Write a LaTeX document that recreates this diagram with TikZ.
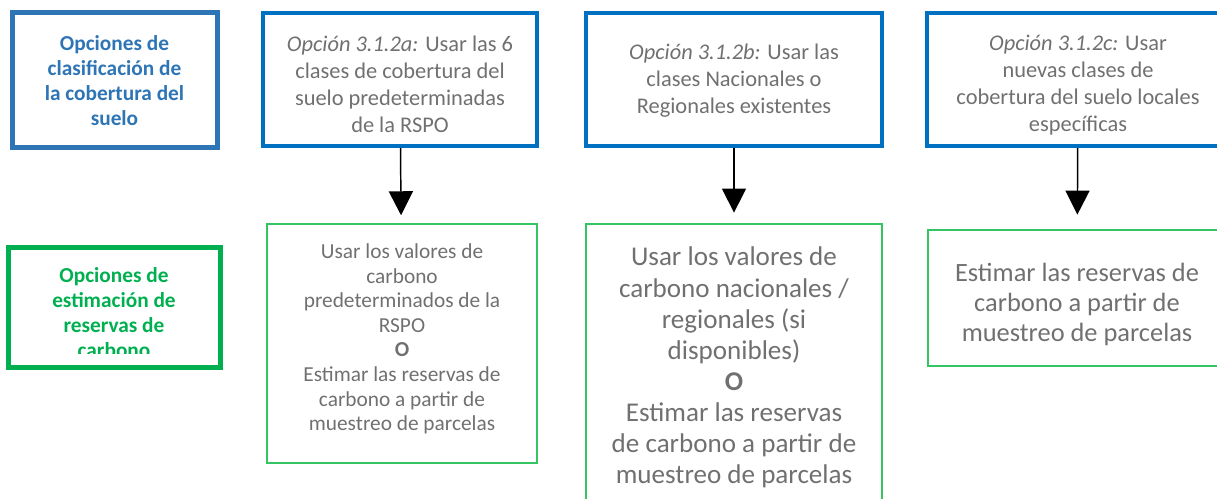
\documentclass[tikz,border=0pt]{standalone}
\usepackage{fontspec}
\setmainfont{Carlito}
\usetikzlibrary{arrows.meta}

\definecolor{hdrblue}{RGB}{46,117,182}
\definecolor{optblue}{RGB}{0,112,192}
\definecolor{hdrgreen}{RGB}{0,176,80}
\definecolor{estgreen}{RGB}{52,196,98}
\definecolor{txtgray}{RGB}{112,112,112}

\tikzset{every picture/.style={line width=0.75pt}}
\tikzset{
  hdrbox/.style={draw, line width=3.75pt, inner sep=0pt},
  hdrtxt/.style={font=\bfseries\fontsize{16}{18.75}\selectfont, inner sep=0pt, align=center},
  optbox/.style={draw=optblue, line width=2.8pt, inner sep=0pt},
  opttxt/.style={text=txtgray, inner sep=0pt, align=center, font=\fontsize{16.8}{20.25}\selectfont},
  estbox/.style={draw=estgreen, line width=1.1pt, inner sep=0pt},
  esttxt/.style={text=txtgray, inner sep=0pt, align=center},
  optarrow/.style={line width=1.1pt, -{Triangle[length=18pt,width=18pt]}}
}

\begin{document}
\begin{tikzpicture}[x=0.75pt,y=0.75pt,yscale=-1,xscale=1]
\useasboundingbox (0,0) rectangle (1217,499);

%Shape: Rectangle [id:clsbox] 
\draw (114.5,80.5) node [hdrbox, draw=hdrblue, minimum width=153.75pt, minimum height=101.25pt] (clsbox) {};
% Text Node
\draw (114.5,80.5) node [hdrtxt, text=hdrblue] (clshdr) {Opciones de\\ clasificación de\\ la cobertura del\\ suelo};

%Shape: Rectangle [id:optabox] 
\draw (400,79.5) node [optbox, minimum width=205.5pt, minimum height=99.75pt] (optabox) {};
% Text Node
\draw (400,84.5) node [opttxt] (opta) {\textit{Opción 3.1.2a:} Usar las 6\\ clases de cobertura del\\ suelo predeterminadas\\ de la RSPO};
%Shape: Rectangle [id:optbbox] 
\draw (734,79.5) node [optbox, minimum width=222pt, minimum height=99.75pt] (optbbox) {};
% Text Node
\draw (734,81) node [opttxt] (optb) {\textit{Opción 3.1.2b:} Usar las\\ clases Nacionales o\\ Regionales existentes};
%Shape: Rectangle [id:optcbox] 
\draw (1078,79.5) node [optbox, minimum width=226.5pt, minimum height=99.75pt] (optcbox) {};
% Text Node
\draw (1078,85.5) node [opttxt] (optc) {\textit{Opción 3.1.2c:} Usar\\ nuevas clases de\\ cobertura del suelo locales\\ específicas};

%Shape: Rectangle [id:estbox0] 
\draw (114,307) node [hdrbox, draw=hdrgreen, minimum width=159pt, minimum height=90pt] (esthdrbox) {};
% Text Node
\begin{scope}
\clip (14,253) rectangle (214,353);
\draw (114,313) node [hdrtxt, text=hdrgreen] (esthdr) {Opciones de\\ estimación de\\ reservas de\\ carbono};
\end{scope}

%Shape: Rectangle [id:estabox] 
\draw (402,343.5) node [estbox, minimum width=202.5pt, minimum height=179.25pt] (estabox) {};
% Text Node
\draw (402,339) node [esttxt, font=\fontsize{16}{18.4}\selectfont] (esta) {Usar los valores de\\ carbono\\ predeterminados de la\\ RSPO\\ \textbf{O}\\ Estimar las reservas de\\ carbono a partir de\\ muestreo de parcelas};
%Shape: Rectangle [id:estbbox] 
\draw (734,365) node [estbox, minimum width=222pt, minimum height=211.5pt] (estbbox) {};
% Text Node
\draw (734,367.5) node [esttxt, font=\fontsize{20.3}{23.3}\selectfont] (estb) {Usar los valores de\\ carbono nacionales /\\ regionales (si\\ disponibles)\\ \textbf{O}\\ Estimar las reservas\\ de carbono a partir de\\ muestreo de parcelas};
%Shape: Rectangle [id:estcbox] 
\draw (1077,298) node [estbox, minimum width=223.5pt, minimum height=102pt] (estcbox) {};
% Text Node
\draw (1077,304.5) node [esttxt, font=\fontsize{19.8}{22.5}\selectfont] (estc) {Estimar las reservas de\\ carbono a partir de\\ muestreo de parcelas};

%Straight Lines [id:arra] 
\draw [optarrow, shorten >=6pt] (optabox) -- (estabox);
%Straight Lines [id:arrb] 
\draw [optarrow, shorten >=8pt] (optbbox) -- (estbbox);
%Straight Lines [id:arrc] 
\draw [optarrow, shorten >=11pt] (optcbox) -- (estcbox);

\end{tikzpicture}
\end{document}
